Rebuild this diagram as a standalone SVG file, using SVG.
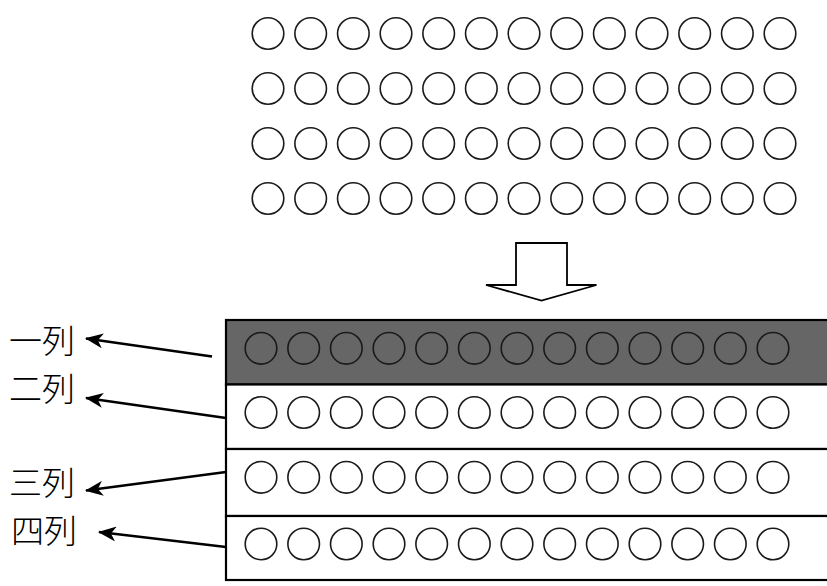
<svg xmlns="http://www.w3.org/2000/svg" xmlns:xlink="http://www.w3.org/1999/xlink" width="827" height="586" viewBox="0 0 827 586">
<style>
.c{fill:none;stroke:#1a1a1a;stroke-width:1.6}
.box{stroke:#000;stroke-width:2.2}
.lbl{font-family:"Noto Sans CJK JP","Noto Sans CJK SC",sans-serif;font-size:33px;font-weight:300;fill:#000}
.con{stroke:#000;stroke-width:2.4;fill:none;marker-end:url(#ah)}
</style>
<defs>
<g id="row">
<circle class="c" cx="0" cy="0" r="15.8"/>
<circle class="c" cx="42.67" cy="0" r="15.8"/>
<circle class="c" cx="85.33" cy="0" r="15.8"/>
<circle class="c" cx="128" cy="0" r="15.8"/>
<circle class="c" cx="170.67" cy="0" r="15.8"/>
<circle class="c" cx="213.33" cy="0" r="15.8"/>
<circle class="c" cx="256" cy="0" r="15.8"/>
<circle class="c" cx="298.67" cy="0" r="15.8"/>
<circle class="c" cx="341.33" cy="0" r="15.8"/>
<circle class="c" cx="384" cy="0" r="15.8"/>
<circle class="c" cx="426.67" cy="0" r="15.8"/>
<circle class="c" cx="469.33" cy="0" r="15.8"/>
<circle class="c" cx="512" cy="0" r="15.8"/>
</g>
<marker id="ah" viewBox="0 0 18 15" refX="17" refY="7.5" markerWidth="18" markerHeight="15" markerUnits="userSpaceOnUse" orient="auto">
<path d="M0,0 L18,7.5 L0,15 L5,7.5 Z" fill="#000"/>
</marker>
</defs>

<g id="grid-top">
<use href="#row" xlink:href="#row" x="268" y="33.5"/>
<use href="#row" xlink:href="#row" x="268" y="88.5"/>
<use href="#row" xlink:href="#row" x="268" y="143.5"/>
<use href="#row" xlink:href="#row" x="268" y="198.5"/>
</g>

<g id="block-arrow">
<path d="M516,243 L567,243 L567,285 L596.5,285 L541.5,300.5 L486,285 L516,285 Z" fill="#fff" stroke="#000" stroke-width="1.8" stroke-linejoin="miter"/>
</g>

<g id="row1">
<rect class="box" x="226" y="320" width="610" height="64.5" fill="#666666"/>
<use href="#row" xlink:href="#row" x="261" y="348.3"/>
</g>
<g id="row2">
<rect class="box" x="226" y="384.5" width="610" height="64.5" fill="#fff"/>
<use href="#row" xlink:href="#row" x="261" y="412.5"/>
</g>
<g id="row3">
<rect class="box" x="226" y="449" width="610" height="67" fill="#fff"/>
<use href="#row" xlink:href="#row" x="261" y="477.3"/>
</g>
<g id="row4">
<rect class="box" x="226" y="516" width="610" height="64" fill="#fff"/>
<use href="#row" xlink:href="#row" x="261" y="544"/>
</g>

<g id="label1"><text class="lbl" x="9" y="353">一列</text></g>
<g id="label2"><text class="lbl" x="9" y="401">二列</text></g>
<g id="label3"><text class="lbl" x="9" y="495">三列</text></g>
<g id="label4"><text class="lbl" x="11" y="543">四列</text></g>

<g id="connectors">
<line class="con" x1="212" y1="356.5" x2="86" y2="338.5"/>
<line class="con" x1="226" y1="418" x2="86" y2="398"/>
<line class="con" x1="226" y1="472" x2="86" y2="490.5"/>
<line class="con" x1="226" y1="547" x2="99" y2="532"/>
</g>
</svg>
